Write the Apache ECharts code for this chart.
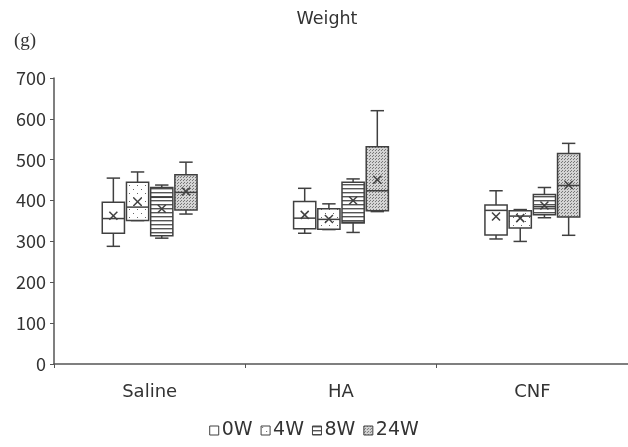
<!DOCTYPE html>
<html><head><meta charset="utf-8">
<script src="https://cdn.jsdelivr.net/npm/echarts@6/dist/echarts.min.js"></script>
<style>html,body{margin:0;padding:0;background:#fff}#c{width:628px;height:447px}</style>
</head><body><div id="c"></div>
<script>
const categories = ['Saline', 'HA', 'CNF'];
const weeks = ['0W', '4W', '8W', '24W'];
const yTicks = [0, 100, 200, 300, 400, 500, 600, 700];
// [min, Q1, median, Q3, max] per category
const box0W  = [[288, 320, 356, 396, 455], [320, 331, 357, 398, 430], [306, 316, 376, 389, 424]];
const box4W  = [[351, 351, 384, 445, 470], [329, 330, 354, 380, 392], [300, 333, 362, 375, 378]];
const box8W  = [[308, 314, 408, 432, 438], [322, 345, 347, 445, 453], [358, 365, 385, 415, 432]];
const box24W = [[367, 377, 420, 463, 494], [373, 375, 424, 532, 620], [315, 360, 437, 515, 540]];
const mean0W  = [363, 365, 361];
const mean4W  = [397, 355, 357];
const mean8W  = [380, 400, 388];
const mean24W = [422, 451, 438];

const boxes = [box0W, box4W, box8W, box24W];
const means = [mean0W, mean4W, mean8W, mean24W];

function mk(w, h, draw) {
  const c = document.createElement('canvas'); c.width = w; c.height = h;
  const g = c.getContext('2d'); draw(g); return {image: c, repeat: 'repeat'};
}
const patterns = [
  '#ffffff',
  mk(8, 8, g => { g.fillStyle = '#fff'; g.fillRect(0,0,8,8); g.fillStyle = '#666'; g.fillRect(1,1,1,1); g.fillRect(5,5,1,1); }),
  mk(4, 4, g => { g.fillStyle = '#fff'; g.fillRect(0,0,4,4); g.fillStyle = '#555'; g.fillRect(0,0,4,1.4); }),
  mk(3, 3, g => { g.fillStyle = '#d4d4d4'; g.fillRect(0,0,3,3); g.fillStyle = '#777'; g.fillRect(0,0,1,1); g.fillRect(1,2,1,1); })
];
const LINE = '#404040';
const FONT = '"Noto Sans CJK JP", "Noto Sans", sans-serif';
const WFONT = '"DejaVu Sans", "Noto Sans", sans-serif';

function renderBox(wi) {
  return function (params, api) {
    const ci = api.value(0);
    const band = api.size([1, 0])[0];
    const off = (wi - 1.5) * 0.1265 * band;
    const bw = 0.116 * band;
    const cap = 0.035 * band;
    const pMin = api.coord([ci, api.value(1)]);
    const pQ1 = api.coord([ci, api.value(2)]);
    const pMed = api.coord([ci, api.value(3)]);
    const pQ3 = api.coord([ci, api.value(4)]);
    const pMax = api.coord([ci, api.value(5)]);
    const pMean = api.coord([ci, api.value(6)]);
    const x = pQ1[0] + off;
    const ls = {stroke: LINE, lineWidth: 1.5, fill: null};
    const xs = 4;
    return {
      type: 'group',
      children: [
        {type: 'line', shape: {x1: x, y1: pMax[1], x2: x, y2: pQ3[1]}, style: ls},
        {type: 'line', shape: {x1: x, y1: pMin[1], x2: x, y2: pQ1[1]}, style: ls},
        {type: 'line', shape: {x1: x - cap, y1: pMax[1], x2: x + cap, y2: pMax[1]}, style: ls},
        {type: 'line', shape: {x1: x - cap, y1: pMin[1], x2: x + cap, y2: pMin[1]}, style: ls},
        {type: 'rect', shape: {x: x - bw / 2, y: pQ3[1], width: bw, height: pQ1[1] - pQ3[1]},
          style: {fill: patterns[wi], stroke: LINE, lineWidth: 1.5}},
        {type: 'line', shape: {x1: x - bw / 2, y1: pMed[1], x2: x + bw / 2, y2: pMed[1]}, style: ls},
        {type: 'line', shape: {x1: x - xs, y1: pMean[1] - xs, x2: x + xs, y2: pMean[1] + xs}, style: ls},
        {type: 'line', shape: {x1: x - xs, y1: pMean[1] + xs, x2: x + xs, y2: pMean[1] - xs}, style: ls}
      ]
    };
  };
}

const series = weeks.map((w, wi) => ({
  type: 'custom',
  name: w,
  renderItem: renderBox(wi),
  itemStyle: {color: patterns[wi], borderColor: LINE, borderWidth: 1},
  encode: {x: 0, y: [1, 2, 3, 4, 5, 6]},
  data: categories.map((c, ci) => [ci].concat(boxes[wi][ci], [means[wi][ci]]))
}));

const chart = echarts.init(document.getElementById('c'), null, {renderer: 'canvas'});
chart.setOption({
  animation: false,
  backgroundColor: '#fff',
  title: {text: 'Weight', left: 322, top: 5, textAlign: 'center',
    textStyle: {fontFamily: WFONT, fontSize: 17.5, fontWeight: 'normal', color: '#333'}},
  graphic: [{type: 'text', left: 14, top: 32,
    style: {text: '(g)', font: '19px "Liberation Serif", "DejaVu Serif", serif', fill: '#333'}}],
  legend: {
    bottom: 2, left: 'center',
    icon: 'rect', itemWidth: 9, itemHeight: 9, itemGap: 8,
    textStyle: {fontFamily: WFONT, fontSize: 19, color: '#333', padding: [0, 0, 0, -2]},
    data: weeks.map((w, wi) => ({name: w, itemStyle: {color: patterns[wi], borderColor: LINE, borderWidth: 1}}))
  },
  grid: {left: 54, right: -1, top: 78, bottom: 83, containLabel: false},
  xAxis: {
    type: 'category', data: categories,
    axisLine: {lineStyle: {color: '#555', width: 1.5}},
    axisTick: {show: true, length: 4, lineStyle: {color: '#555'}},
    axisLabel: {fontFamily: WFONT, fontSize: 18, color: '#333', margin: 19}
  },
  yAxis: {
    type: 'value', min: yTicks[0], max: yTicks[yTicks.length - 1], interval: 100,
    axisLine: {show: true, lineStyle: {color: '#555', width: 1.5}},
    axisTick: {show: true, length: 4, lineStyle: {color: '#555'}},
    splitLine: {show: false},
    axisLabel: {fontFamily: FONT, fontSize: 18, color: '#333', margin: 8}
  },
  series: series
});
</script></body></html>
